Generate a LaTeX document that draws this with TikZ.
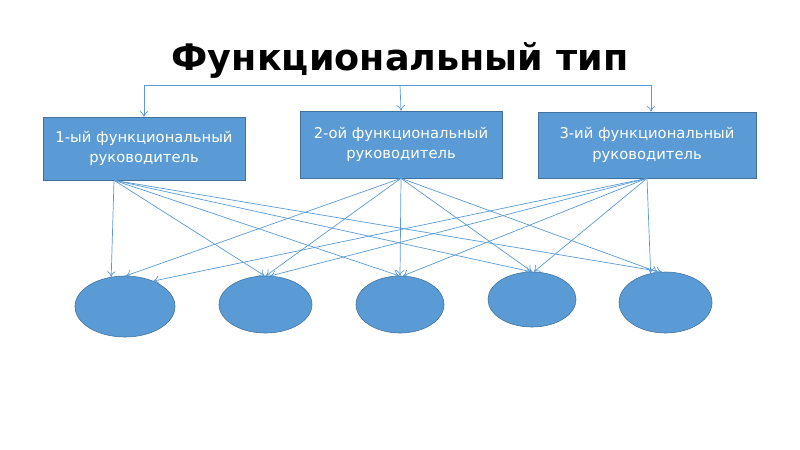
\documentclass[tikz,border=0pt]{standalone}
\usepackage{fontspec}
\setmainfont{DejaVu Sans}
\usetikzlibrary{arrows.meta,shapes.geometric,positioning,calc}
\definecolor{officeblue}{RGB}{91,155,213}
\definecolor{officeedge}{RGB}{65,113,156}

\begin{document}
\begin{tikzpicture}[
    x=0.025cm, y=-0.025cm,
    ruk/.style={draw=officeedge, fill=officeblue, text=white, align=center, font=\fontsize{10.5}{14.5}\selectfont, inner sep=0pt},
    ispoln/.style={draw=officeedge, fill=officeblue, ellipse, inner sep=0pt},
    svyaz/.style={-{To[length=4pt,width=6pt]}, officeblue, line width=0.5pt}
]
    \useasboundingbox (0,0) rectangle (800,449);

    % заголовок
    \node[font=\fontsize{26}{30}\selectfont\bfseries] (title) at (400,60) {Функциональный тип};

    % руководители
    \node[ruk, minimum width=5.05cm, minimum height=1.575cm] (r1) at (144,148.5) {1-ый функциональный\\руководитель};
    \node[ruk, minimum width=5.05cm, minimum height=1.675cm] (r2) at (401,144.5) {2-ой функциональный\\руководитель};
    \node[ruk, minimum width=5.45cm, minimum height=1.65cm] (r3) at (647,145) {3-ий функциональный\\руководитель};

    % исполнители
    \node[ispoln, minimum width=2.5cm, minimum height=1.525cm] (c1) at (125,306.5) {};
    \node[ispoln, minimum width=2.325cm, minimum height=1.425cm] (c2) at (265.5,304.5) {};
    \node[ispoln, minimum width=2.2cm, minimum height=1.425cm] (c3) at (400,304.5) {};
    \node[ispoln, minimum width=2.2cm, minimum height=1.375cm] (c4) at (532,299.5) {};
    \node[ispoln, minimum width=2.325cm, minimum height=1.525cm] (c5) at (665.5,302.5) {};

    % общая линия сверху
    \coordinate (verh) at (400,85);
    \draw[svyaz] (verh) -| (r1.north);
    \draw[svyaz] (verh) -- (r2.north);
    \draw[svyaz] (verh) -| ([xshift=0.1cm]r3.north);

    % точки выхода стрелок
    \coordinate (o1) at ($(r1.south)+(-30,0)$);
    \coordinate (o2) at (r2.south);
    \coordinate (o3) at (r3.south);

    % стрелки к исполнителям
    \draw[svyaz] (o1) -- (c1.115);
    \draw[svyaz] (o1) -- (c2.92);
    \draw[svyaz] (o1) -- (c3.92);
    \draw[svyaz] (o1) -- (c4.92);
    \draw[svyaz] (o1) -- (c5.97);

    \draw[svyaz] (o2) -- (c1.88);
    \draw[svyaz] (o2) -- (c2.89);
    \draw[svyaz] (o2) -- (c3.90);
    \draw[svyaz] (o2) -- (c4.90);
    \draw[svyaz] (o2) -- (c5.104);

    \draw[svyaz] (o3) -- (c1.42);
    \draw[svyaz] (o3) -- (c2.80);
    \draw[svyaz] (o3) -- (c3.84);
    \draw[svyaz] (o3) -- (c4.86);
    \draw[svyaz] (o3) -- (c5.117);
\end{tikzpicture}
\end{document}
